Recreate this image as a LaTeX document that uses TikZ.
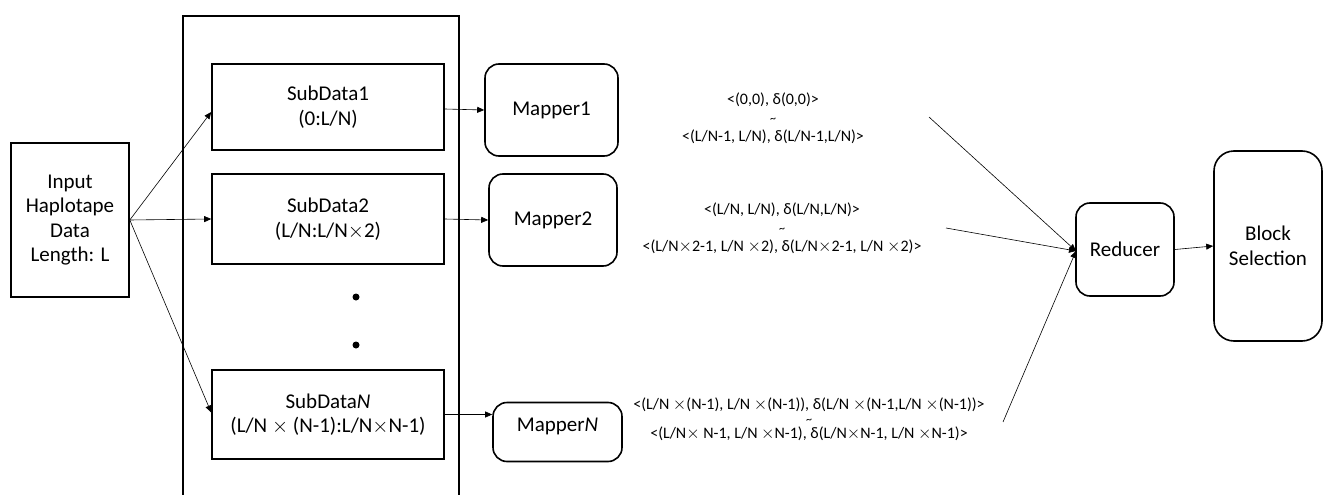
\documentclass[tikz,border=0pt]{standalone}
\usepackage{fontspec}
\setmainfont{Carlito}
\usetikzlibrary{arrows.meta,positioning,calc}
\begin{document}
\begin{tikzpicture}[x=1pt,y=-1pt,
  box/.style={draw,line width=1.6pt,align=center,inner sep=0pt,font=\fontsize{21}{24.5}\selectfont},
  rbox/.style={box,rounded corners=14pt},
  lbl/.style={align=center,inner sep=0pt,font=\fontsize{16}{20}\selectfont},
  arr/.style={-{Triangle[length=7pt,width=6pt]},line width=0.6pt},
  dot/.style={circle,fill,inner sep=0pt,minimum size=7pt}
]
\useasboundingbox (0,0) rectangle (1323,495);
% container
\node[draw,line width=2pt,inner sep=0pt,minimum width=276pt,minimum height=500pt,anchor=north west] (cont) at (182,15) {};
% input
\node[box,minimum width=118pt,minimum height=154pt] (in) at (70,220) {Input\\Haplotape\\Data\\Length: L};
% subdata
\node[box,minimum width=232pt,minimum height=86pt] (s1) at (328,107) {SubData1\\(0:L/N)};
\node[box,minimum width=232pt,minimum height=90pt] (s2) at (328,219) {SubData2\\(L/N:L/N$\times$2)};
\node[box,minimum width=232pt,minimum height=89pt] (sn) at (328,414.5) {SubData\textit{N}\\(L/N $\times$ (N-1):L/N$\times$N-1)};
\node[dot] (d1) at (356,297) {};
\node[dot] (d2) at (356,345) {};
% mappers
\node[rbox,minimum width=133pt,minimum height=92pt] (m1) at (551.5,110) {Mapper1};
\node[rbox,minimum width=128pt,minimum height=92pt] (m2) at (553,220) {Mapper2};
\node[rbox,minimum width=129pt,minimum height=59pt,text depth=14pt] (mn) at (557.5,432) {Mapper\textit{N}};
% reducer & block
\node[rbox,minimum width=98pt,minimum height=93pt] (red) at (1125,249.5) {Reducer};
\node[rbox,rounded corners=20pt,minimum width=108pt,minimum height=190pt] (blk) at (1268,246) {Block\\Selection};
% labels
\node[lbl] (l1) at (773,118) {<(0,0), δ(0,0)>\\[-2pt]{\fontsize{12}{12}\selectfont \textasciitilde}\\[-1pt]<(L/N-1, L/N), δ(L/N-1,L/N)>};
\node[lbl] (l2) at (782,228) {<(L/N, L/N), δ(L/N,L/N)>\\[-2pt]{\fontsize{12}{12}\selectfont \textasciitilde}\\[-1pt]<(L/N$\times$2-1, L/N $\times$2), δ(L/N$\times$2-1, L/N $\times$2)>};
\node[lbl] (l3) at (809,419) {<(L/N $\times$(N-1), L/N $\times$(N-1)), δ(L/N $\times$(N-1,L/N $\times$(N-1))>\\[-6pt]{\fontsize{12}{12}\selectfont \textasciitilde}\\[-5pt]<(L/N$\times$ N-1, L/N $\times$N-1), δ(L/N$\times$N-1, L/N $\times$N-1)>};
% free ends
\coordinate (c1) at (929,117);
\coordinate (c2) at (946,228);
\coordinate (c3) at (1003,422);
\coordinate (rin) at (1076,251);
% arrows
\draw[arr] (in.east) -- ($(s1.west)+(0,5)$);
\draw[arr] (in.east) -- (s2.west);
\draw[arr] (in.east) -- ($(sn.west)+(0,-2)$);
\draw[arr] (s1.east) ++(0,2) -- (m1.west);
\draw[arr] (s2.east) -- (m2.west);
\draw[arr] (sn.east) -- (sn.east -| mn.west);
\draw[arr] (c1) -- (rin);
\draw[arr] (c2) -- (rin);
\draw[arr] (c3) -- (rin);
\draw[arr] (red.east) -- (blk.west);
\end{tikzpicture}
\end{document}
